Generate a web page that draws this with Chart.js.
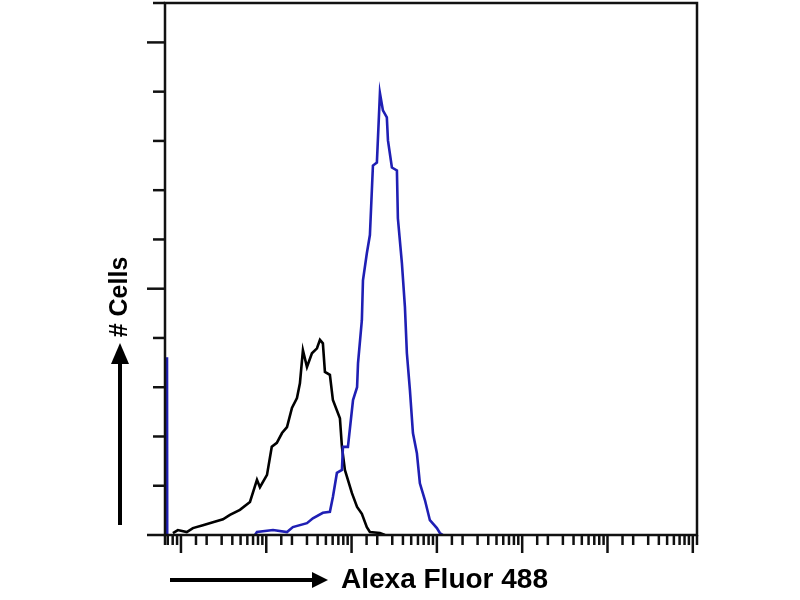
<!DOCTYPE html>
<html>
<head>
<meta charset="utf-8">
<script src="https://cdn.jsdelivr.net/npm/chart.js@4"></script>
<style>
  html, body { margin: 0; padding: 0; background: #fff; }
  #wrap { width: 800px; height: 600px; }
</style>
</head>
<body>
<div id="wrap"><canvas id="chart" width="800" height="600"></canvas></div>
<script>
// isotype control (black) - fluorescence channel / cell count
const blackX = [0.805, 0.92, 1.17, 1.38, 1.81, 2.37, 3.11, 3.75, 4.91, 6.44, 7.78, 8.43, 10.2, 11.6, 13.3, 15.3, 17.5, 20.0, 22.9, 24.8, 26.9, 30.0, 34.3, 39.3, 42.6, 46.1, 48.7, 55.7, 60.4, 73.0, 77.1, 83.5, 101, 116, 132, 151, 164, 215, 246];
const blackY = [0.04, 0.10, 0.06, 0.14, 0.20, 0.26, 0.32, 0.41, 0.51, 0.67, 1.12, 0.97, 1.22, 1.79, 1.87, 2.07, 2.19, 2.58, 2.78, 3.08, 3.75, 3.41, 3.69, 3.79, 3.96, 3.89, 3.31, 3.25, 2.74, 2.37, 1.79, 1.32, 0.85, 0.57, 0.43, 0.16, 0.06, 0.04, 0];

// antibody stained (blue); null = gap after the off-scale bin
const blueX = [0.686, 0.686, 0.69, 0.69, 7.36, 7.78, 12.0, 17.5, 20.5, 30.0, 35.2, 46.1, 55.7, 60.4, 67.3, 77.1, 79.2, 90.6, 104, 116, 119, 132, 136, 151, 164, 178, 198, 215, 233, 259, 267, 297, 340, 349, 389, 422, 445, 483, 524, 583, 632, 724, 828, 1000, 1084, 1175];
const blueY = [0, 3.61, 0, null, 0, 0.06, 0.10, 0.06, 0.16, 0.24, 0.34, 0.45, 0.47, 0.77, 1.26, 1.32, 1.79, 1.79, 2.74, 3.00, 3.49, 4.36, 5.17, 5.72, 6.09, 7.50, 7.56, 8.97, 8.62, 8.48, 8.01, 7.46, 7.40, 6.43, 5.52, 4.63, 3.69, 2.94, 2.07, 1.66, 1.05, 0.71, 0.30, 0.14, 0.04, 0];

const xMin = 0.65, xMax = 1.12e6;
const yMax = 10.8;
const xTitle = "Alexa Fluor 488";
const yTitle = "# Cells";

const toPoints = (xs, ys) => xs.map((x, i) => ({ x: x, y: ys[i] }));

const frame = {
  id: "frame",
  afterDraw(chart) {
    const ctx = chart.ctx;
    const a = chart.chartArea;
    const xs = chart.scales.x, ys = chart.scales.y;
    ctx.save();
    ctx.strokeStyle = "#111";
    ctx.lineCap = "butt";

    // box
    ctx.lineWidth = 2.5;
    ctx.strokeRect(a.left, a.top, a.right - a.left, a.bottom - a.top);

    // x ticks, pointing down
    xs.ticks.forEach(t => {
      const px = xs.getPixelForValue(t.value);
      if (px < a.left - 1 || px > a.right + 1) return;
      const len = t.major ? 18 : 10;
      ctx.beginPath();
      ctx.moveTo(px, a.bottom);
      ctx.lineTo(px, a.bottom + len);
      ctx.stroke();
    });

    // y ticks, pointing left
    ys.ticks.forEach(t => {
      const py = ys.getPixelForValue(t.value);
      const len = (t.value % 5 === 0) ? 18 : 12;
      ctx.beginPath();
      ctx.moveTo(a.left, py);
      ctx.lineTo(a.left - len, py);
      ctx.stroke();
    });

    // axis titles with arrows
    ctx.fillStyle = "#000";
    ctx.strokeStyle = "#000";
    ctx.lineWidth = 4;

    // horizontal arrow
    ctx.beginPath();
    ctx.moveTo(170, 580);
    ctx.lineTo(314, 580);
    ctx.stroke();
    ctx.beginPath();
    ctx.moveTo(328, 580);
    ctx.lineTo(312, 572);
    ctx.lineTo(312, 588);
    ctx.closePath();
    ctx.fill();

    ctx.font = "bold 28px 'Liberation Sans', Arial, sans-serif";
    ctx.textBaseline = "middle";
    ctx.textAlign = "left";
    ctx.fillText(xTitle, 341, 580);

    // vertical arrow
    ctx.beginPath();
    ctx.moveTo(120, 525);
    ctx.lineTo(120, 360);
    ctx.stroke();
    ctx.beginPath();
    ctx.moveTo(120, 343);
    ctx.lineTo(111, 364);
    ctx.lineTo(129, 364);
    ctx.closePath();
    ctx.fill();

    ctx.translate(120, 297);
    ctx.rotate(-Math.PI / 2);
    ctx.font = "bold 25px 'Liberation Sans', Arial, sans-serif";
    ctx.textAlign = "center";
    ctx.fillText(yTitle, 0, 0);
    ctx.restore();
  }
};

new Chart(document.getElementById("chart"), {
  type: "scatter",
  data: {
    datasets: [
      {
        label: "control",
        data: toPoints(blackX, blackY),
        showLine: true,
        borderColor: "#000000",
        borderWidth: 2.6,
        pointRadius: 0,
        tension: 0,
        spanGaps: false,
        order: 2
      },
      {
        label: "stained",
        data: toPoints(blueX, blueY),
        showLine: true,
        borderColor: "#1f1fb4",
        borderWidth: 2.6,
        pointRadius: 0,
        tension: 0,
        spanGaps: false,
        order: 1
      }
    ]
  },
  options: {
    responsive: false,
    animation: false,
    layout: { padding: { left: 165, right: 103, top: 3, bottom: 65 } },
    plugins: { legend: { display: false }, tooltip: { enabled: false } },
    scales: {
      x: {
        type: "logarithmic",
        min: xMin,
        max: xMax,
        grid: { display: false, drawTicks: false },
        border: { display: false },
        ticks: { display: false, autoSkip: false, padding: 0 }
      },
      y: {
        type: "linear",
        min: 0,
        max: yMax,
        grid: { display: false, drawTicks: false },
        border: { display: false },
        ticks: { display: false, stepSize: 1, padding: 0 }
      }
    }
  },
  plugins: [frame]
});
</script>
</body>
</html>
